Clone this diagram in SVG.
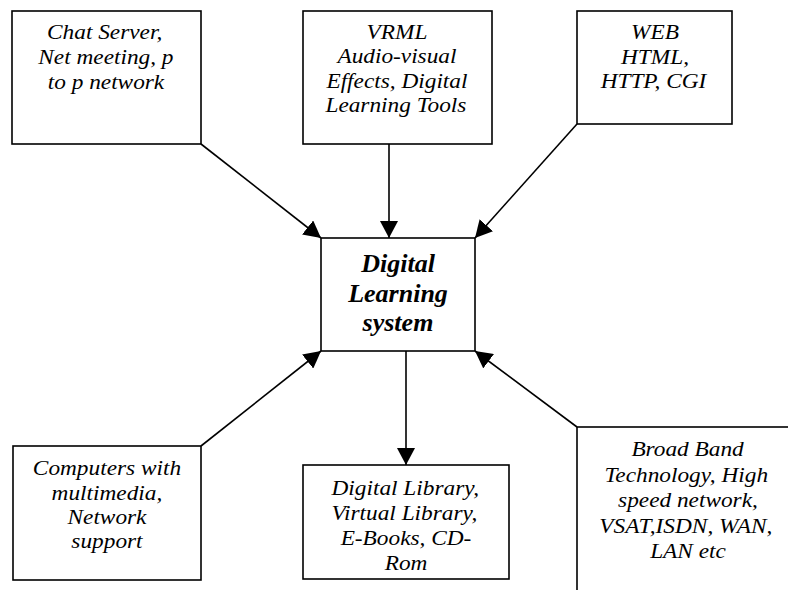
<svg xmlns="http://www.w3.org/2000/svg" width="788" height="590" viewBox="0 0 788 590">
<style>
.box{fill:#fff;stroke:#000;stroke-width:1.6}
.c{stroke:#000;stroke-width:1.6;fill:none;marker-end:url(#ah)}
</style>
<defs>
<marker id="ah" markerUnits="userSpaceOnUse" markerWidth="18" markerHeight="18" refX="17" refY="9" orient="auto">
<path d="M0,0 L17,9 L0,18 z" fill="#000"/>
</marker>
</defs>
<rect width="788" height="590" fill="#fff"/>
<g id="connectors">
<line class="c" x1="201" y1="144" x2="321" y2="238"/>
<line class="c" x1="389" y1="144" x2="389" y2="238"/>
<line class="c" x1="577" y1="124" x2="475" y2="238"/>
<line class="c" x1="201" y1="446" x2="321" y2="351"/>
<line class="c" x1="577" y1="427" x2="475" y2="351"/>
<line class="c" x1="406" y1="351" x2="406" y2="465"/>
</g>
<g id="chat">
<rect class="box" x="12" y="11" width="189" height="133"/>
<text font-family="Liberation Serif" font-style="italic" font-size="21" x="-53.1" y="0" transform="matrix(1.11 0 0 1 106 39)">Chat Server,</text>
<text font-family="Liberation Serif" font-style="italic" font-size="21" x="-61" y="0" transform="matrix(1.11 0 0 1 106 64)">Net meeting, p</text>
<text font-family="Liberation Serif" font-style="italic" font-size="21" x="-52.5" y="0" transform="matrix(1.11 0 0 1 106 89)">to p network</text>
</g>
<g id="vrml">
<rect class="box" x="303" y="11" width="189" height="133"/>
<text font-family="Liberation Serif" font-style="italic" font-size="21" x="-27.4" y="0" transform="matrix(1.11 0 0 1 397 39)">VRML</text>
<text font-family="Liberation Serif" font-style="italic" font-size="21" x="-53.7" y="0" transform="matrix(1.11 0 0 1 397 63)">Audio-visual</text>
<text font-family="Liberation Serif" font-style="italic" font-size="21" x="-63.6" y="0" transform="matrix(1.11 0 0 1 397 88)">Effects, Digital</text>
<text font-family="Liberation Serif" font-style="italic" font-size="21" x="-64.5" y="0" transform="matrix(1.11 0 0 1 397 112)">Learning Tools</text>
</g>
<g id="web">
<rect class="box" x="577" y="11" width="155" height="113"/>
<text font-family="Liberation Serif" font-style="italic" font-size="21" x="-21.6" y="0" transform="matrix(1.11 0 0 1 655 39)">WEB</text>
<text font-family="Liberation Serif" font-style="italic" font-size="21" x="-30.6" y="0" transform="matrix(1.11 0 0 1 655 64)">HTML,</text>
<text font-family="Liberation Serif" font-style="italic" font-size="21" x="-49" y="0" transform="matrix(1.11 0 0 1 655 88)">HTTP, CGI</text>
</g>
<g id="center">
<rect class="box" x="321" y="238" width="154" height="113"/>
<text font-family="Liberation Serif" font-style="italic" font-weight="bold" font-size="26" x="361.2" y="272">Digital</text>
<text font-family="Liberation Serif" font-style="italic" font-weight="bold" font-size="26" x="348.2" y="302">Learning</text>
<text font-family="Liberation Serif" font-style="italic" font-weight="bold" font-size="26" x="362.6" y="331">system</text>
</g>
<g id="computers">
<rect class="box" x="13" y="446" width="188" height="134"/>
<text font-family="Liberation Serif" font-style="italic" font-size="21" x="-66.8" y="0" transform="matrix(1.11 0 0 1 107 475)">Computers with</text>
<text font-family="Liberation Serif" font-style="italic" font-size="21" x="-49.9" y="0" transform="matrix(1.11 0 0 1 107 500)">multimedia,</text>
<text font-family="Liberation Serif" font-style="italic" font-size="21" x="-35.6" y="0" transform="matrix(1.11 0 0 1 107 524)">Network</text>
<text font-family="Liberation Serif" font-style="italic" font-size="21" x="-32.1" y="0" transform="matrix(1.11 0 0 1 107 548)">support</text>
</g>
<g id="library">
<rect class="box" x="303" y="465" width="206" height="114"/>
<text font-family="Liberation Serif" font-style="italic" font-size="21" x="-67.1" y="0" transform="matrix(1.11 0 0 1 406 495)">Digital Library,</text>
<text font-family="Liberation Serif" font-style="italic" font-size="21" x="-67.1" y="0" transform="matrix(1.11 0 0 1 406 520)">Virtual Library,</text>
<text font-family="Liberation Serif" font-style="italic" font-size="21" x="-58.9" y="0" transform="matrix(1.11 0 0 1 406 545)">E-Books, CD-</text>
<text font-family="Liberation Serif" font-style="italic" font-size="21" x="-19.2" y="0" transform="matrix(1.11 0 0 1 406 570)">Rom</text>
</g>
<g id="broadband">
<rect class="box" x="577" y="427" width="230" height="180"/>
<text font-family="Liberation Serif" font-style="italic" font-size="21" x="-51" y="0" transform="matrix(1.11 0 0 1 688 456)">Broad Band</text>
<text font-family="Liberation Serif" font-style="italic" font-size="21" x="-75.2" y="0" transform="matrix(1.11 0 0 1 688 482)">Technology, High</text>
<text font-family="Liberation Serif" font-style="italic" font-size="21" x="-63" y="0" transform="matrix(1.11 0 0 1 688 507)">speed network,</text>
<text font-family="Liberation Serif" font-style="italic" font-size="21" x="-79.9" y="0" transform="matrix(1.11 0 0 1 688 533)">VSAT,ISDN, WAN,</text>
<text font-family="Liberation Serif" font-style="italic" font-size="21" x="-34.1" y="0" transform="matrix(1.11 0 0 1 688 558)">LAN etc</text>
</g>
</svg>
